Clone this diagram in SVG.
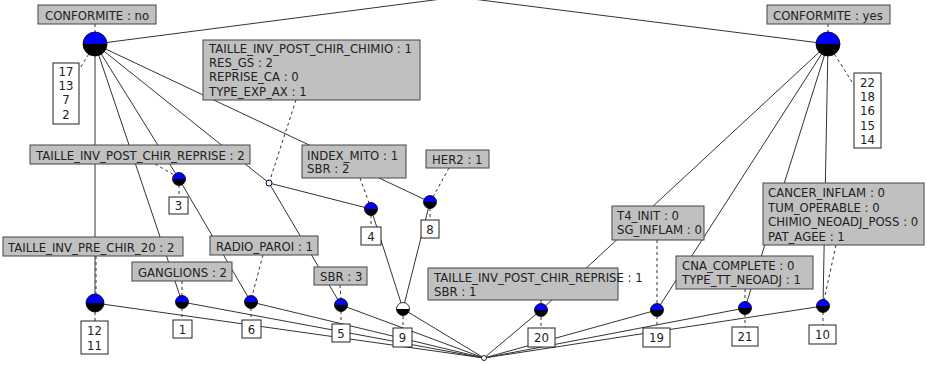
<svg xmlns="http://www.w3.org/2000/svg" width="927" height="365" viewBox="0 0 927 365">
<style>
.e{stroke:#333;stroke-width:1;fill:none}
.d{stroke:#333;stroke-width:1;fill:none;stroke-dasharray:3 3}
.lb{fill:#c0c0c0;stroke:#444;stroke-width:1}
.lf{fill:#fff;stroke:#222;stroke-width:1}
text{font-family:"DejaVu Sans",Verdana,sans-serif;font-size:11.7px;fill:#222}
.c{text-anchor:middle}
.blue{fill:#0000ff}
.blk{fill:#000}
.wht{fill:#fff}
.ol{fill:none;stroke:#000;stroke-width:0.8}
</style>
<defs>
<g id="nodeL"><path class="blue" d="M-12,0A12,12 0 0 1 12,0Z"/><path class="blk" d="M-12,0A12,12 0 0 0 12,0Z"/><circle class="ol" r="12"/></g>
<g id="nodeM"><path class="blue" d="M-9,0A9,9 0 0 1 9,0Z"/><path class="blk" d="M-9,0A9,9 0 0 0 9,0Z"/><circle class="ol" r="9"/></g>
<g id="nodeS"><path class="blue" d="M-6.5,0A6.5,6.5 0 0 1 6.5,0Z"/><path class="blk" d="M-6.5,0A6.5,6.5 0 0 0 6.5,0Z"/><circle class="ol" r="6.5"/></g>
<g id="nodeW"><path class="wht" d="M-6.5,0A6.5,6.5 0 0 1 6.5,0Z"/><path class="blk" d="M-6.5,0A6.5,6.5 0 0 0 6.5,0Z"/><circle class="ol" r="6.5"/></g>
</defs>
<rect width="927" height="365" fill="#fff"/>
<g id="connectors">
<line class="e" x1="95" y1="44" x2="457" y2="-3"/>
<line class="e" x1="828" y1="44" x2="457" y2="-3"/>
<line class="e" x1="95" y1="44" x2="95" y2="303"/>
<line class="e" x1="95" y1="44" x2="182" y2="302"/>
<polyline class="e" points="95,44 179,179 251,302"/>
<line class="e" x1="95" y1="44" x2="269" y2="183"/>
<line class="e" x1="95" y1="44" x2="430" y2="202"/>
<line class="e" x1="269" y1="183" x2="371" y2="209"/>
<line class="e" x1="269" y1="183" x2="341" y2="305"/>
<line class="e" x1="371" y1="209" x2="403" y2="309"/>
<line class="e" x1="430" y1="202" x2="403" y2="309"/>
<line class="e" x1="828" y1="44" x2="541" y2="310"/>
<line class="e" x1="828" y1="44" x2="657" y2="310"/>
<line class="e" x1="828" y1="44" x2="745" y2="308"/>
<line class="e" x1="828" y1="44" x2="823" y2="306"/>
<line class="e" x1="95" y1="303" x2="484" y2="358"/>
<line class="e" x1="182" y1="302" x2="484" y2="358"/>
<line class="e" x1="251" y1="302" x2="484" y2="358"/>
<line class="e" x1="341" y1="305" x2="484" y2="358"/>
<line class="e" x1="403" y1="309" x2="484" y2="358"/>
<line class="e" x1="541" y1="310" x2="484" y2="358"/>
<line class="e" x1="657" y1="310" x2="484" y2="358"/>
<line class="e" x1="745" y1="308" x2="484" y2="358"/>
<line class="e" x1="823" y1="306" x2="484" y2="358"/>
<line class="d" x1="95" y1="24" x2="95" y2="32"/>
<line class="d" x1="95" y1="44" x2="79" y2="70"/>
<line class="d" x1="828" y1="24" x2="828" y2="32"/>
<line class="d" x1="828" y1="44" x2="854" y2="85"/>
<line class="d" x1="96" y1="256" x2="96" y2="294"/>
<line class="d" x1="95" y1="312" x2="95" y2="321"/>
<line class="d" x1="182" y1="281" x2="182" y2="296"/>
<line class="d" x1="182" y1="308" x2="182" y2="320"/>
<line class="d" x1="263" y1="255" x2="252" y2="296"/>
<line class="d" x1="251" y1="308" x2="251" y2="320"/>
<line class="d" x1="340" y1="285" x2="341" y2="299"/>
<line class="d" x1="341" y1="311" x2="341" y2="324"/>
<line class="d" x1="155" y1="164" x2="176" y2="176"/>
<line class="d" x1="179" y1="185" x2="179" y2="197"/>
<line class="d" x1="296" y1="100" x2="269" y2="183"/>
<line class="d" x1="360" y1="178" x2="369" y2="203"/>
<line class="d" x1="371" y1="215" x2="371" y2="227"/>
<line class="d" x1="449" y1="168" x2="433" y2="197"/>
<line class="d" x1="430" y1="208" x2="430" y2="220"/>
<line class="d" x1="403" y1="316" x2="403" y2="328"/>
<line class="d" x1="541" y1="300" x2="541" y2="304"/>
<line class="d" x1="541" y1="317" x2="541" y2="328"/>
<line class="d" x1="657" y1="240" x2="657" y2="304"/>
<line class="d" x1="657" y1="316" x2="657" y2="328"/>
<line class="d" x1="745" y1="289" x2="745" y2="302"/>
<line class="d" x1="745" y1="314" x2="745" y2="327"/>
<line class="d" x1="836" y1="245" x2="824" y2="300"/>
<line class="d" x1="823" y1="312" x2="823" y2="325"/>
</g>
<g id="node-no">
<use href="#nodeL" x="95" y="44"/>
<rect class="lb" x="38" y="5" width="118" height="19"/>
<text x="45" y="19.5">CONFORMITE : no</text>
<rect class="lf" x="53" y="63" width="26" height="61"/>
<text class="c" x="66" y="76">17<tspan x="66" dy="14.2">13</tspan><tspan x="66" dy="14.2">7</tspan><tspan x="66" dy="14.2">2</tspan></text>
</g>
<g id="node-yes">
<use href="#nodeL" x="828" y="44"/>
<rect class="lb" x="767" y="5" width="123" height="19"/>
<text x="773" y="19.5">CONFORMITE : yes</text>
<rect class="lf" x="854" y="73" width="27" height="75"/>
<text class="c" x="867.5" y="86.5">22<tspan x="867.5" dy="14.4">18</tspan><tspan x="867.5" dy="14.4">16</tspan><tspan x="867.5" dy="14.4">15</tspan><tspan x="867.5" dy="14.4">14</tspan></text>
</g>
<g id="node-chimio">
<circle cx="269" cy="183" r="3" fill="#fff" stroke="#002" stroke-width="1"/>
<rect class="lb" x="203" y="40" width="217" height="60"/>
<text x="209" y="53">TAILLE_INV_POST_CHIR_CHIMIO : 1<tspan x="209" dy="14.2">RES_GS : 2</tspan><tspan x="209" dy="14.2">REPRISE_CA : 0</tspan><tspan x="209" dy="14.2">TYPE_EXP_AX : 1</tspan></text>
</g>
<g id="node-3">
<use href="#nodeS" x="179" y="179"/>
<rect class="lb" x="30" y="145" width="220" height="19"/>
<text x="36" y="159.5">TAILLE_INV_POST_CHIR_REPRISE : 2</text>
<rect class="lf" x="169" y="197" width="19" height="17"/>
<text class="c" x="178.5" y="210">3</text>
</g>
<g id="node-4">
<use href="#nodeS" x="371" y="209"/>
<rect class="lb" x="302" y="145" width="104" height="33"/>
<text x="307" y="159.5">INDEX_MITO : 1<tspan x="307" dy="13.7">SBR : 2</tspan></text>
<rect class="lf" x="361" y="227" width="20" height="18"/>
<text class="c" x="371" y="240.5">4</text>
</g>
<g id="node-8">
<use href="#nodeS" x="430" y="202"/>
<rect class="lb" x="426" y="150" width="63" height="18"/>
<text x="432" y="164">HER2 : 1</text>
<rect class="lf" x="421" y="220" width="18" height="18"/>
<text class="c" x="430" y="233.5">8</text>
</g>
<g id="node-12-11">
<use href="#nodeM" x="95" y="303"/>
<rect class="lb" x="3" y="237" width="180" height="19"/>
<text x="8" y="251.5">TAILLE_INV_PRE_CHIR_20 : 2</text>
<rect class="lf" x="81" y="321" width="27" height="33"/>
<text class="c" x="94.5" y="334.5">12<tspan x="94.5" dy="15.5">11</tspan></text>
</g>
<g id="node-1">
<use href="#nodeS" x="182" y="302"/>
<rect class="lb" x="132" y="262" width="100" height="19"/>
<text x="138" y="276.5">GANGLIONS : 2</text>
<rect class="lf" x="173" y="320" width="19" height="18"/>
<text class="c" x="182.5" y="333.5">1</text>
</g>
<g id="node-6">
<use href="#nodeS" x="251" y="302"/>
<rect class="lb" x="210" y="236" width="108" height="19"/>
<text x="216" y="250.5">RADIO_PAROI : 1</text>
<rect class="lf" x="242" y="320" width="19" height="18"/>
<text class="c" x="251.5" y="333.5">6</text>
</g>
<g id="node-5">
<use href="#nodeS" x="341" y="305"/>
<rect class="lb" x="314" y="267" width="53" height="18"/>
<text x="320" y="281">SBR : 3</text>
<rect class="lf" x="332" y="324" width="18" height="18"/>
<text class="c" x="341" y="337.5">5</text>
</g>
<g id="node-9">
<use href="#nodeW" x="403" y="309"/>
<rect class="lf" x="393" y="328" width="19" height="19"/>
<text class="c" x="402.5" y="342">9</text>
</g>
<g id="node-20">
<use href="#nodeS" x="541" y="310"/>
<rect class="lb" x="428" y="268" width="190" height="32"/>
<text x="434" y="282">TAILLE_INV_POST_CHIR_REPRISE : 1<tspan x="434" dy="13.7">SBR : 1</tspan></text>
<rect class="lf" x="528" y="328" width="27" height="19"/>
<text class="c" x="541.5" y="342">20</text>
</g>
<g id="node-19">
<use href="#nodeS" x="657" y="310"/>
<rect class="lb" x="612" y="206" width="92" height="34"/>
<text x="617" y="220">T4_INIT : 0<tspan x="617" dy="14">SG_INFLAM : 0</tspan></text>
<rect class="lf" x="643" y="328" width="27" height="19"/>
<text class="c" x="656.5" y="342">19</text>
</g>
<g id="node-21">
<use href="#nodeS" x="745" y="308"/>
<rect class="lb" x="676" y="256" width="137" height="33"/>
<text x="682" y="270">CNA_COMPLETE : 0<tspan x="682" dy="14">TYPE_TT_NEOADJ : 1</tspan></text>
<rect class="lf" x="732" y="327" width="26" height="19"/>
<text class="c" x="745" y="341">21</text>
</g>
<g id="node-10">
<use href="#nodeS" x="823" y="306"/>
<rect class="lb" x="763" y="183" width="161" height="62"/>
<text x="768" y="197">CANCER_INFLAM : 0<tspan x="768" dy="14.5">TUM_OPERABLE : 0</tspan><tspan x="768" dy="14.5">CHIMIO_NEOADJ_POSS : 0</tspan><tspan x="768" dy="14.5">PAT_AGEE : 1</tspan></text>
<rect class="lf" x="809" y="325" width="27" height="19"/>
<text class="c" x="822.5" y="339">10</text>
</g>
<g id="node-bottom">
<circle cx="484" cy="358" r="2.5" fill="#fff" stroke="#222" stroke-width="1"/>
</g>
</svg>
